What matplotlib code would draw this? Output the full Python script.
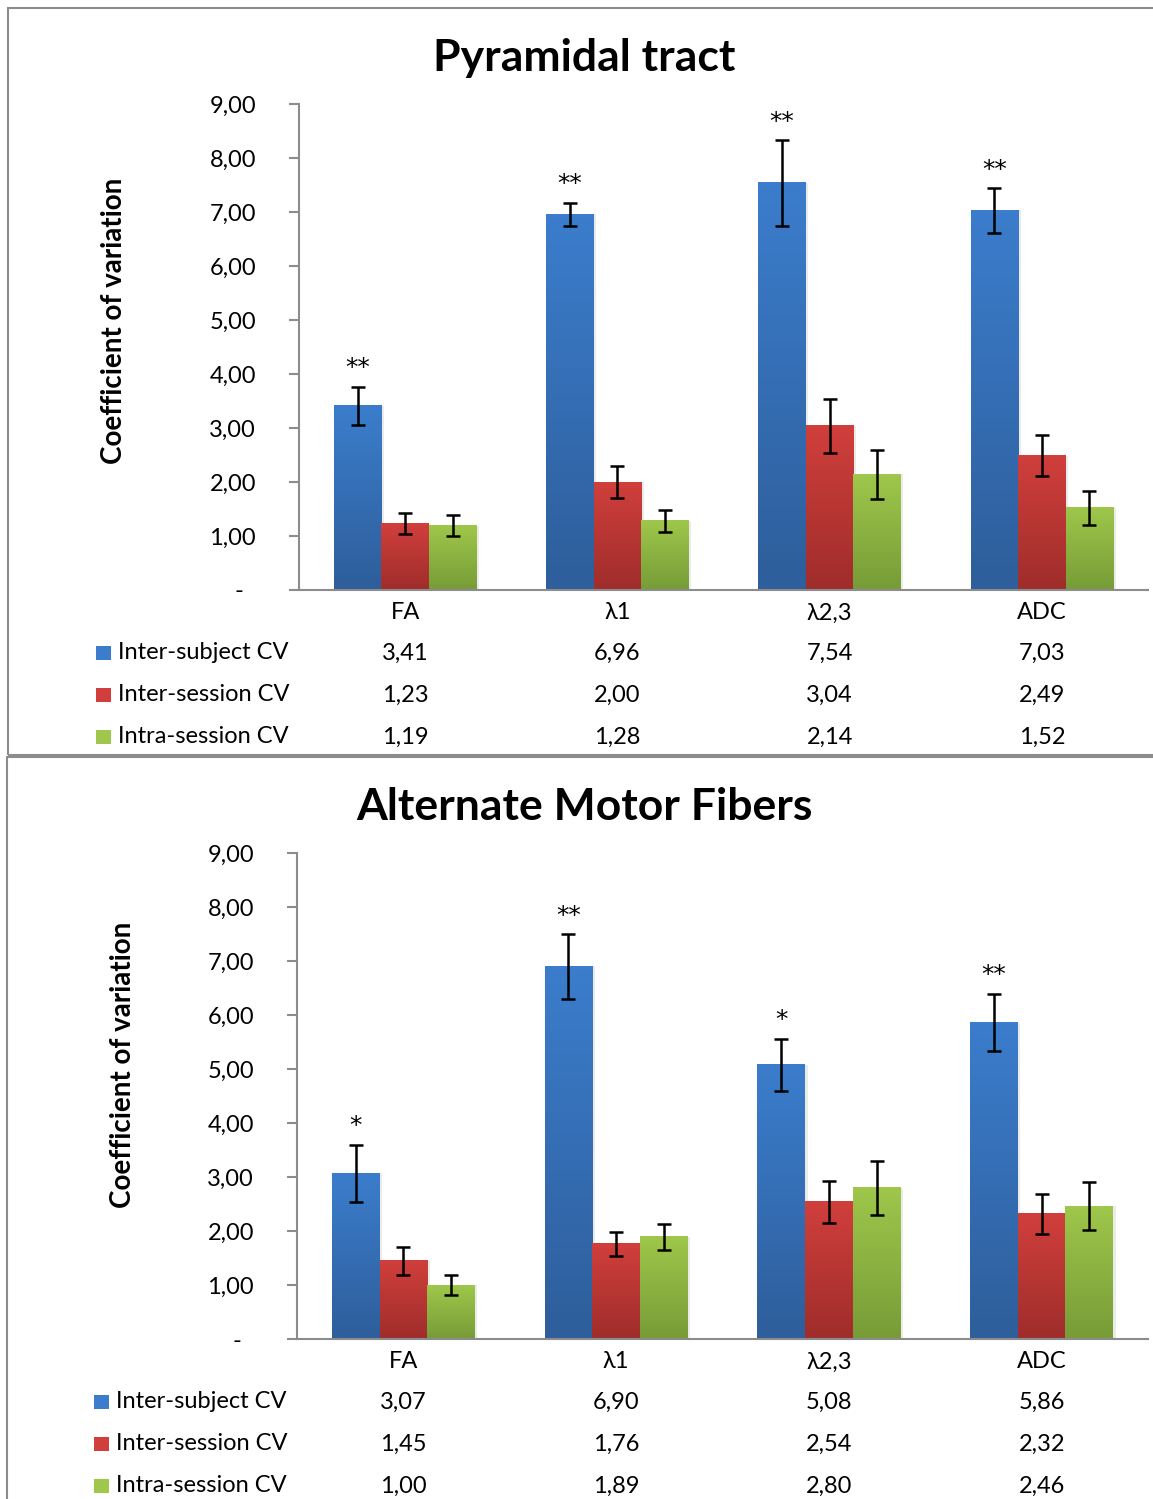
import numpy as np
import matplotlib.pyplot as plt
from matplotlib.colors import LinearSegmentedColormap
from matplotlib.patches import Rectangle
from matplotlib.transforms import blended_transform_factory

plt.rcParams['font.family'] = ['Lato', 'DejaVu Sans']

categories = ['FA', 'λ1', 'λ2,3', 'ADC']
series = ['Inter-subject CV', 'Inter-session CV', 'Intra-session CV']

pyr_inter_subject = [3.41, 6.96, 7.54, 7.03]
pyr_inter_session = [1.23, 2.00, 3.04, 2.49]
pyr_intra_session = [1.19, 1.28, 2.14, 1.52]
pyr_err_subject = [0.35, 0.21, 0.79, 0.41]
pyr_err_inter = [0.20, 0.30, 0.50, 0.38]
pyr_err_intra = [0.19, 0.20, 0.46, 0.31]
pyr_stars = ['**', '**', '**', '**']

amf_inter_subject = [3.07, 6.90, 5.08, 5.86]
amf_inter_session = [1.45, 1.76, 2.54, 2.32]
amf_intra_session = [1.00, 1.89, 2.80, 2.46]
amf_err_subject = [0.53, 0.60, 0.48, 0.53]
amf_err_inter = [0.26, 0.22, 0.39, 0.37]
amf_err_intra = [0.19, 0.24, 0.50, 0.45]
amf_stars = ['*', '**', '*', '**']

yticks = [0, 1, 2, 3, 4, 5, 6, 7, 8, 9]

top_cols = ['#3b7dcc', '#d03f3c', '#9ec74b']
bot_cols = ['#2e5e9b', '#9f2d2b', '#779c37']

W, H = 1153, 1499
fig = plt.figure(figsize=(W / 100, H / 100), dpi=100)


def px_axes(x0, y0, x1, y1):
    return fig.add_axes([x0 / W, 1 - y1 / H, (x1 - x0) / W, (y1 - y0) / H])


# panel borders
for (bx, by, bh) in [(8, 8, 747), (7, 757, 760)]:
    fig.add_artist(Rectangle((bx / W, 1 - (by + bh) / H), (W + 20) / W, bh / H,
                             transform=fig.transFigure, fill=False,
                             edgecolor='#8c8c8c', linewidth=1.5))


def draw_panel(ax, title, vals, errs, stars, title_y, lab_x, lab_y, leg_x):
    n = len(categories)
    x = np.arange(n)
    bw = 0.224
    for i, (v, e) in enumerate(zip(vals, errs)):
        xs = x + (i - 1) * bw
        cmap = LinearSegmentedColormap.from_list('g%d' % i, [bot_cols[i], top_cols[i]])
        grad = np.linspace(1, 0, 100).reshape(-1, 1)
        for xi, vi, ei in zip(xs, v, e):
            # soft shadow
            ax.add_patch(Rectangle((xi - bw / 2 + 0.012, 0), bw, vi, facecolor='#000000',
                                   alpha=0.08, linewidth=0, zorder=1))
            ax.imshow(grad, extent=[xi - bw / 2, xi + bw / 2, 0, vi], aspect='auto',
                      cmap=cmap, vmin=0, vmax=1, zorder=2)
            ax.errorbar(xi, vi, yerr=ei, color='black', capsize=5, capthick=1.8,
                        elinewidth=1.8, zorder=4)
    for xi, vi, ei, s in zip(x - bw, vals[0], errs[0], stars):
        ax.text(xi, vi + ei + 0.12, s, ha='center', va='bottom', fontsize=18,
                family='DejaVu Sans')

    ax.set_xlim(-0.5, n - 0.5)
    ax.set_ylim(0, 9)
    ax.set_yticks(yticks)
    ax.set_yticklabels(['-  '] + ['%d,00' % t for t in yticks[1:]], fontsize=17)
    ax.tick_params(axis='y', length=7, width=1.5, color='#8c8c8c', pad=24)
    ax.set_xticks(x)
    ax.set_xticklabels(categories, fontsize=17)
    ax.tick_params(axis='x', length=0, pad=9)
    for sp in ['top', 'right']:
        ax.spines[sp].set_visible(False)
    for sp in ['left', 'bottom']:
        ax.spines[sp].set_color('#8c8c8c')
        ax.spines[sp].set_linewidth(1.5)
    ax.set_ylabel('Coefficient of variation', fontsize=20, fontweight='bold')
    ax_box = ax.get_position()
    ax.yaxis.set_label_coords((lab_x / W - ax_box.x0) / ax_box.width,
                              ((1 - lab_y / H) - ax_box.y0) / ax_box.height)
    fig.text(584 / W, 1 - title_y / H, title, ha='center', va='center',
             fontsize=32, fontweight='bold')

    # data table below the axis
    tr = ax.get_xaxis_transform()
    ltr = blended_transform_factory(fig.transFigure, ax.transAxes)
    ax_h = ax_box.height * H
    for r, name in enumerate(series):
        yy = -(63 + r * 42) / ax_h
        for xi, v in zip(x, vals[r]):
            ax.text(xi, yy, ('%.2f' % v).replace('.', ','), transform=tr,
                    ha='center', va='center', fontsize=17, clip_on=False)
        ax.text((leg_x + 22) / W, yy, name, transform=ltr, ha='left', va='center',
                fontsize=17, clip_on=False)
        ax.add_patch(Rectangle((leg_x / W, yy - 7 / ax_h), 15 / W, 14 / ax_h,
                               transform=ltr, facecolor=top_cols[r],
                               edgecolor='none', clip_on=False))


ax1 = px_axes(299, 104, 1148, 590)
draw_panel(ax1, 'Pyramidal tract',
           [pyr_inter_subject, pyr_inter_session, pyr_intra_session],
           [pyr_err_subject, pyr_err_inter, pyr_err_intra], pyr_stars,
           58, 127, 321, 96)

ax2 = px_axes(297, 853, 1148, 1339)
draw_panel(ax2, 'Alternate Motor Fibers',
           [amf_inter_subject, amf_inter_session, amf_intra_session],
           [amf_err_subject, amf_err_inter, amf_err_intra], amf_stars,
           807, 136, 1065, 94)

fig.savefig('out.png', dpi=100)
